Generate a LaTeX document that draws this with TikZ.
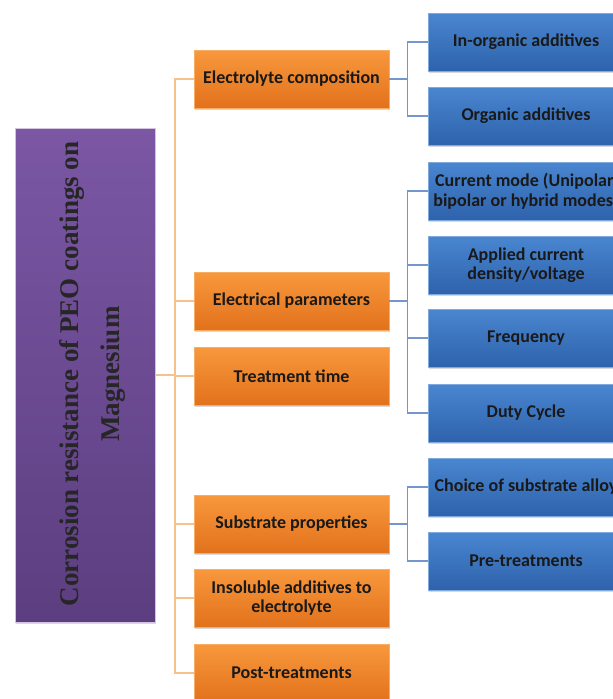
\documentclass[tikz,border=0pt]{standalone}
\usepackage{fontspec}
\setmainfont{Liberation Serif}
\newfontfamily\boxfont{Carlito}
\usetikzlibrary{shadows}
\definecolor{orangetop}{HTML}{F8983C}
\definecolor{orangebot}{HTML}{E2721C}
\definecolor{bluetop}{HTML}{4A86D0}
\definecolor{bluebot}{HTML}{2E62AC}
\definecolor{purpletop}{HTML}{7B57A4}
\definecolor{purplebot}{HTML}{5C3E80}
\definecolor{orangeline}{HTML}{F6C08F}
\definecolor{blueline}{HTML}{7396CE}

\begin{document}
\begin{tikzpicture}[x=1pt,y=-1pt,
  box/.style={minimum height=58pt,align=center,text=black!90,
    font=\boxfont\bfseries\fontsize{18}{19.5}\selectfont,
    drop shadow={shadow xshift=0.5pt,shadow yshift=-1.5pt,opacity=0.3}},
  obox/.style={box,minimum width=195pt,top color=orangetop,bottom color=orangebot,draw=orangetop!80!white},
  bbox/.style={box,minimum width=196pt,top color=bluetop,bottom color=bluebot,draw=bluetop!70!white},
  oline/.style={draw=orangeline,line width=1.2pt},
  bline/.style={draw=blueline,line width=1.2pt}]
\useasboundingbox (0,0) rectangle (613,699);
\clip (0,0) rectangle (613,699);
\fill[white] (0,0) rectangle (613,699);

\node[draw=purpletop!35!white,line width=1pt,top color=purpletop,bottom color=purplebot,
  minimum width=140pt,minimum height=494pt,
  drop shadow={shadow xshift=0.5pt,shadow yshift=-1.5pt,opacity=0.3}] (root) at (85,375) {};
\node[rotate=90,align=center,text=black!85,font=\bfseries\fontsize{27}{41}\selectfont]
  (roottext) at (92,374) {Corrosion resistance of PEO coatings on\\Magnesium};

\node[obox] (elec) at (291.5,79) {Electrolyte composition};
\node[obox] (epar) at (291.5,301) {Electrical parameters};
\node[obox] (ttime) at (291.5,376) {Treatment time};
\node[obox] (subs) at (291.5,524) {Substrate properties};
\node[obox] (insol) at (291.5,598) {Insoluble additives to\\electrolyte};
\node[obox] (post) at (291.5,673) {Post-treatments};

\foreach \n/\y/\t in {inorg/42/{In-organic additives},org/116/{Organic additives},
    cmode/191/{Current mode (Unipolar,\\bipolar or hybrid modes)},
    acur/265/{Applied current\\density/voltage},freq/338/{Frequency},duty/413/{Duty Cycle},
    alloy/487/{Choice of substrate alloy},pretr/561/{Pre-treatments}}
  \node[bbox] (\n) at (526,\y) {\t};

\coordinate (trunk) at (175,375);
\draw[oline] (root.east) -- (trunk);
\foreach \n in {elec,epar,ttime,subs,insol,post}
  \draw[oline] (trunk) |- (\n.west);

\foreach \a/\b/\c in {elec/inorg/org,epar/cmode/duty,subs/alloy/pretr}{
  \draw[bline] (\a.east) -- ++(19,0);
  \draw[bline] (\b.west) -- ++(-20,0) |- (\c.west);
}
\foreach \n in {acur,freq}
  \draw[bline] (\n.west) -- ++(-20,0);
\end{tikzpicture}
\end{document}
